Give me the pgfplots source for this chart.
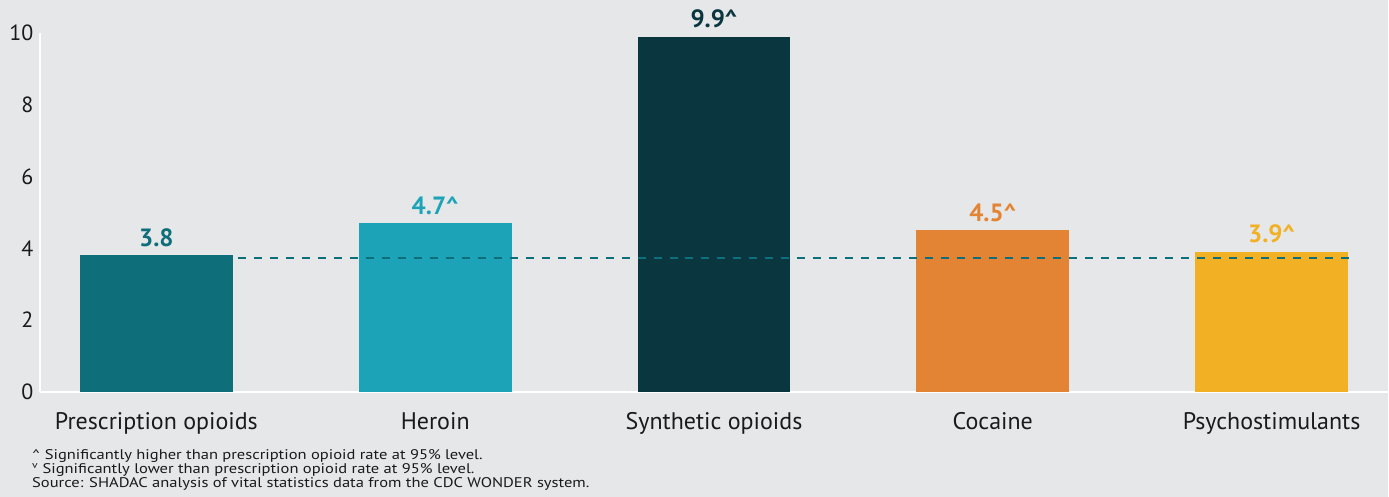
\documentclass[border=0pt]{standalone}
\usepackage{pgfplots}
\pgfplotsset{compat=1.18}
\usepackage{fontspec}
\setmainfont{PT Sans}
\newfontfamily\footfont[FakeStretch=1.18]{PT Sans}
\definecolor{bg}{HTML}{E6E7E9}
\definecolor{c1}{HTML}{0E6E7A}
\definecolor{c2}{HTML}{1CA3B7}
\definecolor{c3}{HTML}{0A363F}
\definecolor{c4}{HTML}{E38434}
\definecolor{c5}{HTML}{F2B024}
\definecolor{txt}{HTML}{1A1A1A}
\begin{document}
\begin{tikzpicture}[x=1pt,y=1pt]
\fill[bg] (0,0) rectangle (1389,497);
\begin{axis}[
  at={(40pt,105pt)}, anchor=south west,
  scale only axis, width=1349pt, height=359pt,
  xmin=-0.4176, xmax=4.4176, ymin=0, ymax=10,
  axis x line=bottom, axis y line=left,
  axis line style={white, line width=2pt, -},
  xtick={0,1,2,3,4},
  xticklabels={Prescription opioids,Heroin,Synthetic opioids,Cocaine,Psychostimulants},
  ytick={0,2,4,6,8,10},
  major tick length=0pt,
  tick label style={text=txt},
  yticklabel style={font=\fontsize{22}{26}\selectfont, xshift=-3pt},
  xticklabel style={font=\fontsize{24}{28}\selectfont, yshift=-17pt},
  /pgf/number format/assume math mode=true,
  ybar, bar width=0.548, bar shift=0pt,
  every node near coord/.append style={font=\fontsize{25}{28}\bfseries\selectfont, yshift=5pt},
  clip=false,
]
\addplot[fill=c1, draw=none, nodes near coords={3.8}, every node near coord/.append style={text=c1}] coordinates {(0,3.8)};
\addplot[fill=c2, draw=none, nodes near coords={4.7\textasciicircum}, every node near coord/.append style={text=c2}] coordinates {(1,4.7)};
\addplot[fill=c3, draw=none, nodes near coords={9.9\textasciicircum}, every node near coord/.append style={text=c3}] coordinates {(2,9.9)};
\addplot[fill=c4, draw=none, nodes near coords={4.5\textasciicircum}, every node near coord/.append style={text=c4}] coordinates {(3,4.5)};
\addplot[fill=c5, draw=none, nodes near coords={3.9\textasciicircum}, every node near coord/.append style={text=c5}] coordinates {(4,3.9)};
\addplot[sharp plot, c1, line width=2.2pt, dash pattern=on 8pt off 8pt] coordinates {(0.292,3.72) (4.278,3.72)};
\end{axis}
\node[anchor=north west, inner sep=0pt, align=left, text=txt, font=\footfont\fontsize{14}{13.6}\selectfont] at (32,47) {%
\textasciicircum\ Significantly higher than prescription opioid rate at 95\% level.\\
\textsuperscript{v} Significantly lower than prescription opioid rate at 95\% level.\\
Source: SHADAC analysis of vital statistics data from the CDC WONDER system.};
\end{tikzpicture}
\end{document}
